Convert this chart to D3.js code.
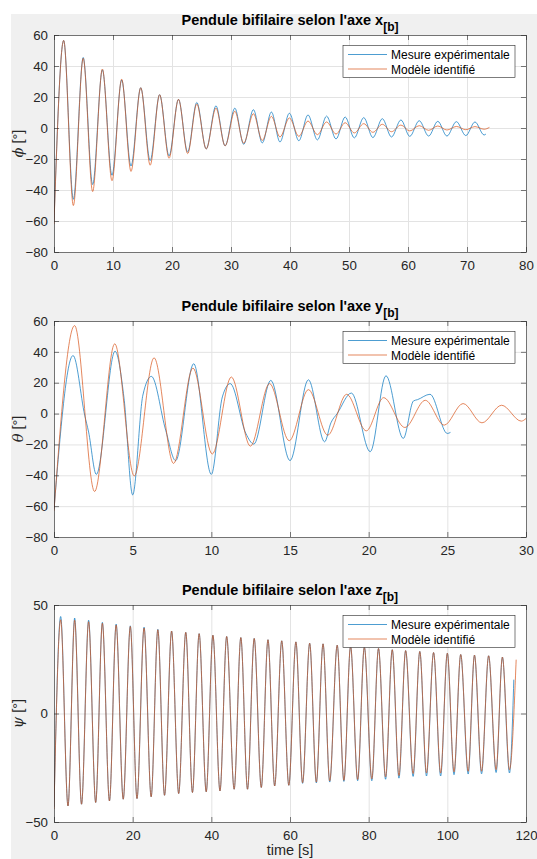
<!DOCTYPE html>
<html>
<head>
<meta charset="utf-8">
<script src="https://cdn.jsdelivr.net/npm/d3@7"></script>
<style>
  body { margin: 0; background: #fff; }
  svg { display: block; font-family: "Liberation Sans", Arial, sans-serif; }
</style>
</head>
<body>
<div id="chart"></div>
<script>
////////////////////////////////////////////////////////////////////
////////////////////////////  Data  ////////////////////////////////
const seriesNames = ["Mesure expérimentale", "Modèle identifié"];

// axe x : phi (extrema)
const phiTimeMes = [0, 1.64, 3.28, 4.95, 6.55, 8.2, 9.83, 11.47, 13.05, 14.7, 16.3, 17.9, 19.5, 21.1, 22.65, 24.2, 25.8, 27.45, 29.0, 30.65, 32.15, 33.8, 35.3, 36.85, 38.3, 39.9, 41.5, 43.05, 44.65, 46.2, 47.8, 49.35, 50.9, 52.5, 54.05, 55.65, 57.2, 58.8, 60.3, 61.9, 63.5, 65.05, 66.6, 68.2, 69.8, 71.35, 72.9, 73.2];
const phiMes = [-60, 56.5, -46, 45.5, -36.5, 37.5, -30.5, 31, -24.5, 26, -21, 21.5, -18, 18.5, -15.5, 16.5, -13.5, 14.3, -11.5, 12.8, -10.5, 11.8, -9.6, 10.3, -9.0, 9.5, -8.2, 8.4, -7.7, 7.7, -7.1, 7.1, -6.4, 6.7, -6.2, 6.0, -5.8, 5.2, -5.4, 4.7, -5.2, 4.3, -5.2, 4.1, -4.9, 3.9, -4.5, -3.9];
const phiTimeMod = [0, 1.64, 3.28, 4.95, 6.55, 8.2, 9.83, 11.47, 13.05, 14.7, 16.3, 17.9, 19.5, 21.1, 22.65, 24.2, 25.8, 27.45, 29.0, 30.65, 32.15, 33.8, 35.3, 36.85, 38.3, 39.9, 41.5, 43.05, 44.65, 46.2, 47.8, 49.35, 50.9, 52.5, 54.05, 55.65, 57.2, 58.8, 60.3, 61.9, 63.5, 65.05, 66.6, 68.2, 69.8, 71.35, 72.9, 73.8];
const phiMod = [-62, 56.5, -50, 45, -41, 38, -34, 31.5, -28, 26, -24, 21.5, -19.5, 18.5, -16.5, 15.5, -13.5, 12.8, -11.5, 10.8, -9.8, 9.2, -8, 7.5, -5.8, 6.5, -5.4, 4.5, -4.3, 3.9, -3.9, 3.4, -3.2, 2.8, -2.8, 2.4, -2.4, 1.9, -1.9, 1.5, -1.5, 1.3, -1.3, 1.0, -1.1, 0.9, -0.8, 0.4];
const phiXTicks = [0, 10, 20, 30, 40, 50, 60, 70, 80];
const phiYTicks = [-80, -60, -40, -20, 0, 20, 40, 60];

// axe y : theta
const thetaTimeMes = [0, 1.21, 1.95, 2.2, 2.69, 3.88, 4.45, 5.0, 5.65, 6.19, 7.1, 7.73, 8.88, 10.0, 10.7, 11.2, 12.2, 12.7, 13.78, 15.0, 16.17, 17.2, 17.6, 18.0, 18.9, 20.1, 21.1, 22.2, 22.85, 23.1, 23.9, 25.0, 25.2];
const thetaMes = [-62, 37.6, -1, -12, -39.4, 40.4, 10, -52.7, 12, 24.1, -10.8, -30.5, 32.3, -39.4, 10.8, 19.4, -13, -19.8, 21.5, -30.5, 21.9, -18.3, -6, 0, 13.3, -24.7, 24.5, -16.1, 8.2, 9, 12.5, -12.9, -12.2];
const thetaTimeMod = [0, 1.31, 2.58, 3.86, 5.1, 6.36, 7.6, 8.83, 10.06, 11.27, 12.48, 13.7, 14.95, 16.17, 17.4, 18.6, 19.85, 20.95, 22.3, 23.6, 24.8, 26.0, 27.2, 28.45, 29.7, 30];
const thetaMod = [-63, 57, -50.5, 45.2, -40.4, 36.1, -32.3, 29.5, -26.2, 23.7, -21.1, 19.4, -17.6, 15.5, -14, 12.5, -11.2, 10.3, -9, 8.6, -7.5, 6.5, -6, 5.4, -4.9, -3.2];
const thetaXTicks = [0, 5, 10, 15, 20, 25, 30];
const thetaYTicks = [-80, -60, -40, -20, 0, 20, 40, 60];

// axe z : psi
const psiTimeMes = [0, 1.7, 3.56, 5.25, 7.0, 8.8, 10.6, 12.3, 14.1, 15.8, 17.6, 19.4, 21.1, 22.9, 24.7, 26.4, 28.1, 29.9, 31.7, 33.5, 35.2, 36.9, 38.7, 40.4, 42.2, 43.9, 45.8, 47.5, 49.2, 50.9, 52.7, 54.4, 56.1, 57.9, 59.7, 61.5, 63.2, 65.0, 66.7, 68.4, 70.1, 72.0, 73.7, 75.4, 77.2, 78.9, 80.8, 82.5, 84.3, 86.0, 87.7, 89.4, 91.3, 93.0, 94.7, 96.5, 98.3, 100.0, 101.7, 103.4, 105.3, 106.9, 108.7, 110.5, 112.4, 114.0, 115.8, 116.9];
const psiMes = [-43, 44.7, -42.6, 44.0, -41.8, 43.0, -41.0, 42.0, -40.3, 41.2, -39.5, 40.4, -39.2, 39.8, -38.4, 38.8, -37.7, 38.0, -36.9, 37.4, -36.4, 36.8, -36.1, 36.1, -35.7, 35.5, -34.9, 35.0, -34.9, 34.6, -34.1, 34.0, -33.4, 33.5, -33.1, 33.0, -32.2, 32.4, -32.0, 32.1, -31.6, 31.5, -31.3, 31.0, -31.0, 30.6, -31.0, 30.0, -30.3, 29.4, -29.8, 29.0, -29.0, 28.6, -28.8, 28.1, -28.8, 27.8, -28.2, 27.2, -27.9, 26.9, -27.8, 26.6, -27.2, 26.0, -27.4, 15.6];
const psiTimeMod = [0, 1.7, 3.56, 5.25, 7.0, 8.8, 10.6, 12.3, 14.1, 15.8, 17.6, 19.4, 21.1, 22.9, 24.7, 26.4, 28.1, 29.9, 31.7, 33.5, 35.2, 36.9, 38.7, 40.4, 42.2, 43.9, 45.8, 47.5, 49.2, 50.9, 52.7, 54.4, 56.1, 57.9, 59.7, 61.5, 63.2, 65.0, 66.7, 68.4, 70.1, 72.0, 73.7, 75.4, 77.2, 78.9, 80.8, 82.5, 84.3, 86.0, 87.7, 89.4, 91.3, 93.0, 94.7, 96.5, 98.3, 100.0, 101.7, 103.4, 105.3, 106.9, 108.7, 110.5, 112.4, 114.0, 115.8, 117.5];
const psiMod = [-44, 43.2, -42.6, 43.0, -41.8, 42.3, -41.0, 41.6, -40.3, 40.8, -39.5, 40.1, -39.2, 39.4, -38.4, 38.6, -37.7, 38.0, -36.9, 37.4, -36.4, 36.8, -36.1, 36.1, -35.7, 35.5, -34.9, 35.0, -34.9, 34.6, -34.1, 34.0, -33.4, 33.5, -33.1, 33.0, -31.9, 32.4, -31.6, 32.1, -31.1, 31.5, -30.8, 31.0, -30.4, 30.6, -30.1, 30.0, -29.2, 29.4, -28.6, 29.0, -27.7, 28.6, -27.4, 28.1, -27.4, 27.8, -26.9, 27.2, -26.6, 26.9, -26.6, 26.6, -25.9, 26.0, -25.9, 24.8];
const psiXTicks = [0, 20, 40, 60, 80, 100, 120];
const psiYTicks = [-50, 0, 50];

////////////////////////////////////////////////////////////////////
////////////////////////////  Init  /////////////////////////////////
const width = 537;
const height = 859;
const colors = ["#0072BD", "#D95319"];
const axisColor = "#262626";

const svg = d3.select("#chart").append("svg")
  .attr("width", width).attr("height", height);

// figure background
svg.append("rect")
  .attr("x", 11).attr("y", 14)
  .attr("width", width - 11).attr("height", height - 14)
  .attr("fill", "#f0f0f0");

const left = 54, right = 526;

const panels = [
  { top: 35, bottom: 252, axe: "x", sym: "ϕ", xDomain: [0, 80], xTicks: phiXTicks, yDomain: [-80, 60], yTicks: phiYTicks,
    mes: d3.zip(phiTimeMes, phiMes), mod: d3.zip(phiTimeMod, phiMod) },
  { top: 321, bottom: 537, axe: "y", sym: "θ", xDomain: [0, 30], xTicks: thetaXTicks, yDomain: [-80, 60], yTicks: thetaYTicks,
    mes: d3.zip(thetaTimeMes, thetaMes), mod: d3.zip(thetaTimeMod, thetaMod) },
  { top: 605, bottom: 822, axe: "z", sym: "ψ", xDomain: [0, 120], xTicks: psiXTicks, yDomain: [-50, 50], yTicks: psiYTicks,
    mes: d3.zip(psiTimeMes, psiMes), mod: d3.zip(psiTimeMod, psiMod), xlabel: "time [s]" }
];

panels.forEach((p, i) => {
  const xScale = d3.scaleLinear().domain(p.xDomain).range([left, right]);
  const yScale = d3.scaleLinear().domain(p.yDomain).range([p.bottom, p.top]);
  const h = p.bottom - p.top;
  const w = right - left;

  const g = svg.append("g");

  // plot area
  g.append("rect")
    .attr("x", left).attr("y", p.top).attr("width", w).attr("height", h)
    .attr("fill", "#fff");

  // grid
  g.append("g")
    .attr("transform", `translate(0, ${p.bottom})`)
    .call(d3.axisBottom(xScale).tickValues(p.xTicks).tickSize(-h).tickFormat(""))
    .call((s) => s.select(".domain").remove())
    .selectAll("line").attr("stroke", "#e3e3e3");
  g.append("g")
    .attr("transform", `translate(${left}, 0)`)
    .call(d3.axisLeft(yScale).tickValues(p.yTicks).tickSize(-w).tickFormat(""))
    .call((s) => s.select(".domain").remove())
    .selectAll("line").attr("stroke", "#e3e3e3");

  // lines
  const clipId = "clip" + i;
  g.append("clipPath").attr("id", clipId)
    .append("rect").attr("x", left).attr("y", p.top).attr("width", w).attr("height", h);

  const line = d3.line()
    .x((d) => xScale(d[0]))
    .y((d) => yScale(d[1]))
    .curve(d3.curveMonotoneX);

  [p.mes, p.mod].forEach((data, k) => {
    g.append("path")
      .datum(data)
      .attr("clip-path", `url(#${clipId})`)
      .attr("d", line)
      .attr("fill", "none")
      .attr("stroke", colors[k])
      .attr("stroke-width", 0.7);
  });

  // axes (ticks inward, on all four sides)
  const styleAxis = (s) => {
    s.select(".domain").attr("stroke", axisColor).attr("stroke-width", 0.6);
    s.selectAll(".tick line").attr("stroke", axisColor).attr("stroke-width", 0.6);
    s.selectAll("text").attr("fill", axisColor).attr("font-size", 13.3)
      .attr("font-family", '"Liberation Sans", Arial, sans-serif');
  };
  g.append("g")
    .attr("transform", `translate(0, ${p.bottom})`)
    .call(d3.axisBottom(xScale).tickValues(p.xTicks).tickSizeInner(-5).tickSizeOuter(0).tickPadding(9))
    .call(styleAxis);
  g.append("g")
    .attr("transform", `translate(0, ${p.top})`)
    .call(d3.axisTop(xScale).tickValues(p.xTicks).tickSizeInner(-5).tickSizeOuter(0).tickFormat(""))
    .call(styleAxis);
  g.append("g")
    .attr("transform", `translate(${left}, 0)`)
    .call(d3.axisLeft(yScale).tickValues(p.yTicks).tickSizeInner(-5).tickSizeOuter(0).tickPadding(6))
    .call(styleAxis);
  g.append("g")
    .attr("transform", `translate(${right}, 0)`)
    .call(d3.axisRight(yScale).tickValues(p.yTicks).tickSizeInner(-5).tickSizeOuter(0).tickFormat(""))
    .call(styleAxis);

  // title
  const title = g.append("text")
    .attr("x", (left + right) / 2)
    .attr("y", p.top - 10)
    .attr("text-anchor", "middle")
    .attr("font-weight", "bold")
    .attr("font-size", 14.5)
    .attr("fill", "#000");
  title.append("tspan").text("Pendule bifilaire selon l'axe " + p.axe);
  title.append("tspan").attr("dy", 6).attr("font-size", 12).text("[b]");

  // y label
  const yl = g.append("text")
    .attr("transform", `translate(23, ${(p.top + p.bottom) / 2}) rotate(-90)`)
    .attr("text-anchor", "middle")
    .attr("font-size", 14.5)
    .attr("fill", axisColor);
  yl.append("tspan").attr("font-style", "italic").attr("font-family", '"DejaVu Serif", serif').text(p.sym);
  yl.append("tspan").text(" [°]");

  // x label
  if (p.xlabel) {
    g.append("text")
      .attr("x", (left + right) / 2)
      .attr("y", 855)
      .attr("text-anchor", "middle")
      .attr("font-size", 14.5)
      .attr("fill", axisColor)
      .text(p.xlabel);
  }

  // legend
  const lx = 343, ly = p.top + 10.5;
  g.append("rect")
    .attr("x", lx).attr("y", ly).attr("width", 172).attr("height", 32)
    .attr("fill", "#fff").attr("stroke", axisColor).attr("stroke-width", 0.6);
  seriesNames.forEach((name, k) => {
    const yy = ly + 9 + k * 14.5;
    g.append("line")
      .attr("x1", lx + 5).attr("x2", lx + 44).attr("y1", yy).attr("y2", yy)
      .attr("stroke", colors[k]).attr("stroke-width", 0.7);
    g.append("text")
      .attr("x", lx + 48).attr("y", yy + 4.5)
      .attr("font-size", 12)
      .attr("fill", "#000")
      .text(name);
  });
});
</script>
</body>
</html>
